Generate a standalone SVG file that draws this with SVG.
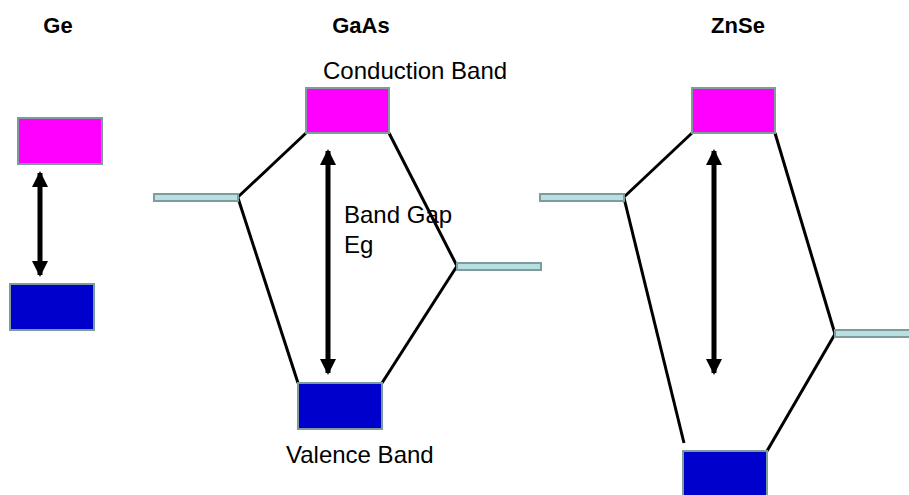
<svg xmlns="http://www.w3.org/2000/svg" width="909" height="495" viewBox="0 0 909 495">
<defs>
<style>
.title{font-family:"Liberation Sans",Arial,sans-serif;font-weight:bold;font-size:22px;fill:#000;text-anchor:middle}
.lbl{font-family:"Liberation Sans",Arial,sans-serif;font-size:24px;fill:#000}
.cb{fill:#ff00ff;stroke:#7f9c9c;stroke-width:2}
.vb{fill:#0000cc;stroke:#7f9c9c;stroke-width:2}
.lvl{fill:#b8e0e2;stroke:#7f9c9c;stroke-width:2}
.bond{stroke:#000;stroke-width:3;fill:none}
.gap{stroke:#000;stroke-width:5;fill:none;marker-start:url(#ah);marker-end:url(#ah)}
</style>
<marker id="ah" viewBox="0 0 16 16" refX="14" refY="8" markerWidth="16" markerHeight="16" markerUnits="userSpaceOnUse" orient="auto-start-reverse">
<path d="M0,0 L16,8 L0,16 Z" fill="#000"/>
</marker>
</defs>
<g id="titles">
<text class="title" x="58" y="33">Ge</text>
<text class="title" x="361" y="33">GaAs</text>
<text class="title" x="738" y="33">ZnSe</text>
</g>
<g id="connectors">
<line class="bond" x1="238" y1="197" x2="306" y2="133"/>
<line class="bond" x1="389" y1="133" x2="457" y2="266"/>
<line class="bond" x1="238" y1="198" x2="298" y2="383"/>
<line class="bond" x1="382" y1="383" x2="457" y2="266"/>
<line class="bond" x1="624" y1="197" x2="692" y2="133"/>
<line class="bond" x1="775" y1="133" x2="835" y2="334"/>
<line class="bond" x1="624" y1="198" x2="684" y2="443"/>
<line class="bond" x1="767" y1="451" x2="835" y2="334"/>
<line class="gap" x1="40" y1="173" x2="40" y2="275"/>
<line class="gap" x1="328" y1="151" x2="328" y2="373"/>
<line class="gap" x1="714" y1="151" x2="714" y2="373"/>
</g>
<g id="ge-cb"><rect class="cb" x="18" y="118" width="84" height="46"/></g>
<g id="ge-vb"><rect class="vb" x="10" y="284" width="84" height="46"/></g>
<g id="gaas-left"><rect class="lvl" x="154" y="194" width="84" height="7"/></g>
<g id="gaas-right"><rect class="lvl" x="457" y="263" width="84" height="7"/></g>
<g id="gaas-cb"><rect class="cb" x="306" y="88" width="83" height="45"/></g>
<g id="gaas-vb"><rect class="vb" x="298" y="383" width="84" height="46"/></g>
<g id="znse-left"><rect class="lvl" x="540" y="194" width="84" height="7"/></g>
<g id="znse-right"><rect class="lvl" x="835" y="330" width="84" height="7"/></g>
<g id="znse-cb"><rect class="cb" x="692" y="88" width="83" height="45"/></g>
<g id="znse-vb"><rect class="vb" x="683" y="451" width="84" height="46"/></g>
<g id="labels">
<text class="lbl" x="323" y="79">Conduction Band</text>
<text class="lbl" x="344" y="223">Band Gap</text>
<text class="lbl" x="344" y="253">Eg</text>
<text class="lbl" x="286" y="463">Valence Band</text>
</g>
</svg>
